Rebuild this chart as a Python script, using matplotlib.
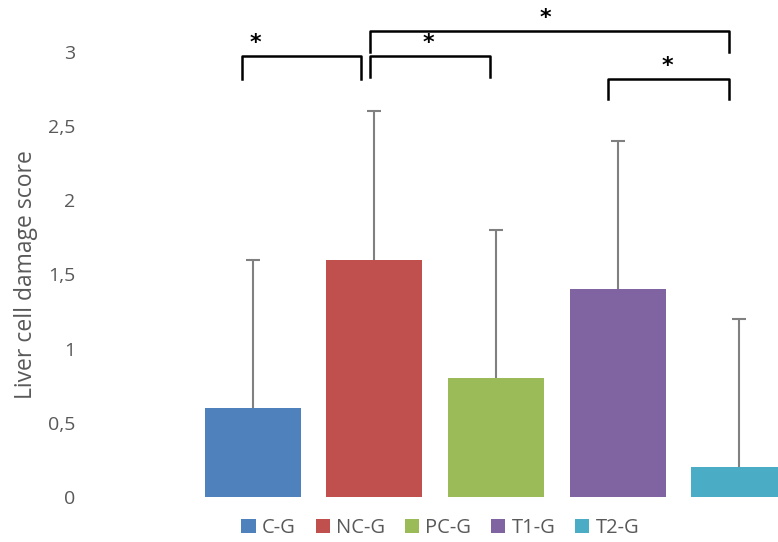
import matplotlib.pyplot as plt
from matplotlib.patches import Patch

plt.rcParams['font.family'] = ['Open Sans', 'DejaVu Sans']

groups = ["C-G", "NC-G", "PC-G", "T1-G", "T2-G"]
scores = [0.6, 1.6, 0.8, 1.4, 0.2]
errors = [1.0, 1.0, 1.0, 1.0, 1.0]
colors = ["#4F81BD", "#C0504D", "#9BBB59", "#8064A2", "#4BACC6"]
y_ticks = [0, 0.5, 1, 1.5, 2, 2.5, 3]
y_tick_labels = ["0", "0,5", "1", "1,5", "2", "2,5", "3"]

# significance brackets: left group, right group, top level, leg drop
brackets = [(0, 1, 2.97, 0.15), (1, 2, 2.97, 0.14),
            (1, 4, 3.14, 0.14), (3, 4, 2.82, 0.14)]
# small offsets of bracket ends from bar centres (group units)
bracket_ends = [(-0.09, -0.11), (-0.04, -0.05), (-0.04, -0.08), (-0.08, -0.08)]
star_x = [0.02, 1.44, 2.41, 3.41]

TEXT_GRAY = "#595959"

fig = plt.figure(figsize=(7.78, 5.42), dpi=100)
ax = fig.add_axes([0.2468, 0.083, 0.7815, 0.917])

x = list(range(len(groups)))
ax.bar(x, scores, width=0.79, color=colors, zorder=2)
tops = [s + e for s, e in zip(scores, errors)]
ax.vlines(x, scores, tops, color="#808080", lw=1.5, zorder=3)
ax.plot(x, tops, ls='none', marker='_', markersize=9.5, mew=1.5,
        color="#808080", zorder=3)

for (i, j, top, drop), (dl, dr), sx in zip(brackets, bracket_ends, star_x):
    xl = i + dl
    xr = j + dr
    ax.plot([xl, xl, xr, xr], [top - drop, top, top, top - drop],
            color="black", lw=1.8, solid_joinstyle='round', clip_on=False, zorder=4)
    ax.text(sx, top + 0.02, "*", ha="center", va="bottom", fontsize=16,
            fontweight="bold", color="black", family="DejaVu Sans")

ax.set_xlim(-0.5, 4.5)
ax.set_ylim(0, 3.35)
ax.set_yticks(y_ticks)
ax.set_yticklabels(y_tick_labels)
ax.set_xticks([])
ax.tick_params(axis='y', length=0, pad=84, labelsize=14, labelcolor=TEXT_GRAY)
for s in ax.spines.values():
    s.set_visible(False)

ax.set_ylabel("Liver cell damage score", fontsize=16.5, color=TEXT_GRAY)
ax.yaxis.set_label_coords(-0.254, 0.447)

handles = [Patch(facecolor=c, edgecolor='none') for c in colors]
fig.legend(handles, groups, loc="center", bbox_to_anchor=(0.566, 0.026),
           ncol=5, frameon=False, fontsize=14.5, labelcolor=TEXT_GRAY,
           handlelength=0.7, handleheight=0.7, handletextpad=0.3,
           columnspacing=1.0)

fig.savefig("out.png", dpi=100)
